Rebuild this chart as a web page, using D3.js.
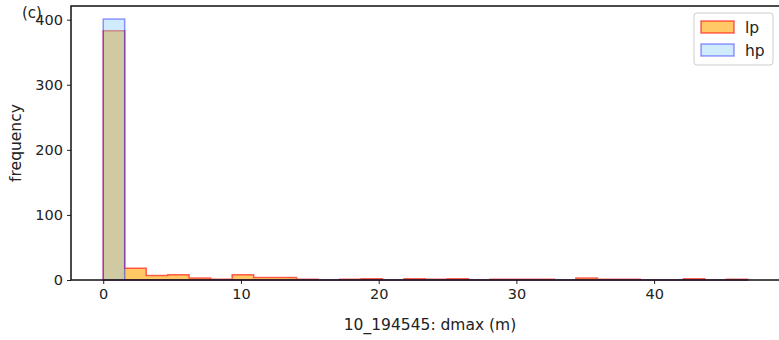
<!DOCTYPE html>
<html>
<head>
<meta charset="utf-8">
<script src="https://cdn.jsdelivr.net/npm/d3@7/dist/d3.min.js"></script>
<style>
  html, body { margin: 0; padding: 0; background: #fff; }
  svg { display: block; font-family: "DejaVu Sans", sans-serif; }
</style>
</head>
<body>
<svg id="chart" width="779" height="340"></svg>
<script>
// Histogram bin edges: 30 equal bins from 0 to 46.8 m
const binStart = 0;
const binWidth = 1.56;
const binCount = 30;

// Counts per bin for each series
const lpCounts = [383, 18, 7, 8, 3, 1, 8, 4, 4, 1, 0, 1, 2, 0, 2, 1, 2, 0, 1, 1, 1, 0, 3, 1, 1, 0, 0, 2, 0, 1];
const hpCounts = [401, 0, 0, 0, 0, 0, 0, 0, 0, 0, 0, 0, 0, 0, 0, 0, 0, 0, 0, 0, 0, 0, 0, 0, 0, 0, 0, 0, 0, 0];

const xTicks = [0, 10, 20, 30, 40];
const yTicks = [0, 100, 200, 300, 400];
const seriesNames = ["lp", "hp"];

const svg = d3.select("#chart");
const margin = { left: 71, top: 6, right: -1, bottom: 60 };
const W = 779, H = 340;
const innerW = W - margin.left - margin.right;
const innerH = H - margin.top - margin.bottom;

const xMax = binStart + binWidth * binCount;
const xPad = (xMax - binStart) * 0.05;
const x = d3.scaleLinear().domain([binStart - xPad, xMax + xPad]).range([margin.left, margin.left + innerW]);
const yTop = d3.max(hpCounts.concat(lpCounts)) * 1.05;
const y = d3.scaleLinear().domain([0, yTop]).range([margin.top + innerH, margin.top]);

// Build a closed step outline (stepfilled histogram) from counts
function stepPath(counts) {
  const pts = [[x(binStart), y(0)]];
  counts.forEach((c, i) => {
    const x0 = binStart + i * binWidth, x1 = x0 + binWidth;
    pts.push([x(x0), y(c)]);
    pts.push([x(x1), y(c)]);
  });
  pts.push([x(xMax), y(0)]);
  return d3.line()(pts) + "Z";
}

const series = [
  { name: "lp", counts: lpCounts, fill: "rgba(255,165,0,0.6)", stroke: "rgba(255,0,0,0.6)" },
  { name: "hp", counts: hpCounts, fill: "rgba(135,206,250,0.4)", stroke: "rgba(0,0,255,0.4)" }
];

const plot = svg.append("g");
series.forEach(s => {
  plot.append("path")
    .attr("d", stepPath(s.counts))
    .attr("fill", s.fill)
    .attr("stroke", s.stroke)
    .attr("stroke-width", 1.5)
    .attr("stroke-linejoin", "miter");
});

// Axes
const xAxis = d3.axisBottom(x).tickValues(xTicks).tickSize(4).tickPadding(5).tickFormat(d3.format("d"));
const yAxis = d3.axisLeft(y).tickValues(yTicks).tickSize(4).tickPadding(4).tickFormat(d3.format("d"));

const gx = svg.append("g").attr("transform", `translate(0,${margin.top + innerH})`).call(xAxis);
const gy = svg.append("g").attr("transform", `translate(${margin.left},0)`).call(yAxis);
[gx, gy].forEach(g => {
  g.select(".domain").remove();
  g.selectAll("text").attr("font-size", 14.5).attr("fill", "#222").attr("font-family", "DejaVu Sans, sans-serif");
  g.selectAll("line").attr("stroke", "#222").attr("stroke-width", 1);
});

// Frame
svg.append("rect")
  .attr("x", margin.left).attr("y", margin.top)
  .attr("width", innerW).attr("height", innerH)
  .attr("fill", "none").attr("stroke", "#111").attr("stroke-width", 1.5);

// Labels
svg.append("text")
  .attr("x", 430).attr("y", 330)
  .attr("text-anchor", "middle").attr("font-size", 15.5).attr("fill", "#222")
  .text("10_194545: dmax (m)");

svg.append("text")
  .attr("transform", `translate(21,${margin.top + innerH / 2}) rotate(-90)`)
  .attr("text-anchor", "middle").attr("font-size", 15.5).attr("fill", "#222")
  .text("frequency");

svg.append("text")
  .attr("x", 22).attr("y", 18)
  .attr("font-size", 15).attr("fill", "#222")
  .text("(c)");

// Legend
const lg = svg.append("g").attr("transform", "translate(694,13)");
lg.append("rect").attr("width", 79).attr("height", 52).attr("rx", 3)
  .attr("fill", "rgba(255,255,255,0.8)").attr("stroke", "#ccc").attr("stroke-width", 1);
series.forEach((s, i) => {
  const gy0 = 8 + i * 23;
  lg.append("rect").attr("x", 7).attr("y", gy0).attr("width", 33).attr("height", 12)
    .attr("fill", s.fill).attr("stroke", s.stroke).attr("stroke-width", 1.5);
  lg.append("text").attr("x", 51).attr("y", gy0 + 12)
    .attr("font-size", 15.5).attr("fill", "#222").text(seriesNames[i]);
});
</script>
</body>
</html>
